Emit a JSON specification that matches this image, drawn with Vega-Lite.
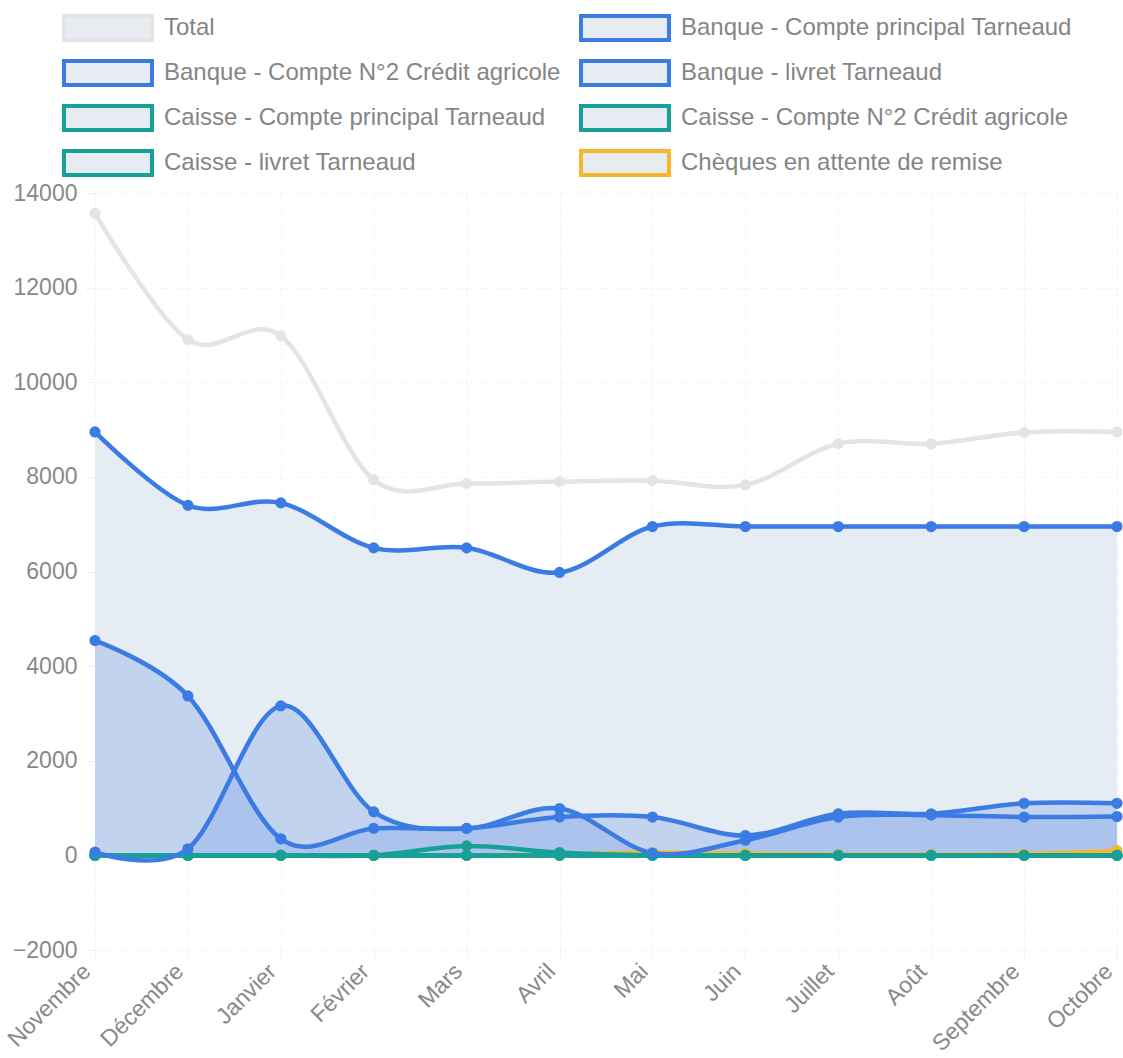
{
  "$schema": "https://vega.github.io/schema/vega-lite/v6.json",
  "width": 1022,
  "height": 757,
  "autosize": {"type": "none"},
  "padding": {"left": 95, "top": 193, "right": 6, "bottom": 108},
  "background": "white",
  "config": {
    "font": "Liberation Sans",
    "view": {"stroke": null},
    "axis": {
      "gridColor": "#eeeeee",
      "gridDash": [2, 3],
      "gridWidth": 1,
      "domain": false,
      "tickColor": "#f0f0f0",
      "labelColor": "#888888",
      "labelFont": "Liberation Sans",
      "labelFontSize": 23,
      "title": null
    }
  },
  "data": {
    "values": [
      {"mois": "Novembre", "serie": "Chèques en attente de remise", "valeur": 0},
      {"mois": "Décembre", "serie": "Chèques en attente de remise", "valeur": 0},
      {"mois": "Janvier", "serie": "Chèques en attente de remise", "valeur": 0},
      {"mois": "Février", "serie": "Chèques en attente de remise", "valeur": 0},
      {"mois": "Mars", "serie": "Chèques en attente de remise", "valeur": 0},
      {"mois": "Avril", "serie": "Chèques en attente de remise", "valeur": 20},
      {"mois": "Mai", "serie": "Chèques en attente de remise", "valeur": 60},
      {"mois": "Juin", "serie": "Chèques en attente de remise", "valeur": 40},
      {"mois": "Juillet", "serie": "Chèques en attente de remise", "valeur": 20},
      {"mois": "Août", "serie": "Chèques en attente de remise", "valeur": 20},
      {"mois": "Septembre", "serie": "Chèques en attente de remise", "valeur": 30},
      {"mois": "Octobre", "serie": "Chèques en attente de remise", "valeur": 100},

      {"mois": "Novembre", "serie": "Caisse - livret Tarneaud", "valeur": 0},
      {"mois": "Décembre", "serie": "Caisse - livret Tarneaud", "valeur": 0},
      {"mois": "Janvier", "serie": "Caisse - livret Tarneaud", "valeur": 0},
      {"mois": "Février", "serie": "Caisse - livret Tarneaud", "valeur": 0},
      {"mois": "Mars", "serie": "Caisse - livret Tarneaud", "valeur": 0},
      {"mois": "Avril", "serie": "Caisse - livret Tarneaud", "valeur": 0},
      {"mois": "Mai", "serie": "Caisse - livret Tarneaud", "valeur": 0},
      {"mois": "Juin", "serie": "Caisse - livret Tarneaud", "valeur": 0},
      {"mois": "Juillet", "serie": "Caisse - livret Tarneaud", "valeur": 0},
      {"mois": "Août", "serie": "Caisse - livret Tarneaud", "valeur": 0},
      {"mois": "Septembre", "serie": "Caisse - livret Tarneaud", "valeur": 0},
      {"mois": "Octobre", "serie": "Caisse - livret Tarneaud", "valeur": 0},

      {"mois": "Novembre", "serie": "Caisse - Compte N°2 Crédit agricole", "valeur": 0},
      {"mois": "Décembre", "serie": "Caisse - Compte N°2 Crédit agricole", "valeur": 0},
      {"mois": "Janvier", "serie": "Caisse - Compte N°2 Crédit agricole", "valeur": 0},
      {"mois": "Février", "serie": "Caisse - Compte N°2 Crédit agricole", "valeur": 0},
      {"mois": "Mars", "serie": "Caisse - Compte N°2 Crédit agricole", "valeur": 0},
      {"mois": "Avril", "serie": "Caisse - Compte N°2 Crédit agricole", "valeur": 0},
      {"mois": "Mai", "serie": "Caisse - Compte N°2 Crédit agricole", "valeur": 0},
      {"mois": "Juin", "serie": "Caisse - Compte N°2 Crédit agricole", "valeur": 0},
      {"mois": "Juillet", "serie": "Caisse - Compte N°2 Crédit agricole", "valeur": 0},
      {"mois": "Août", "serie": "Caisse - Compte N°2 Crédit agricole", "valeur": 0},
      {"mois": "Septembre", "serie": "Caisse - Compte N°2 Crédit agricole", "valeur": 0},
      {"mois": "Octobre", "serie": "Caisse - Compte N°2 Crédit agricole", "valeur": 0},

      {"mois": "Novembre", "serie": "Caisse - Compte principal Tarneaud", "valeur": 0},
      {"mois": "Décembre", "serie": "Caisse - Compte principal Tarneaud", "valeur": 0},
      {"mois": "Janvier", "serie": "Caisse - Compte principal Tarneaud", "valeur": 0},
      {"mois": "Février", "serie": "Caisse - Compte principal Tarneaud", "valeur": 0},
      {"mois": "Mars", "serie": "Caisse - Compte principal Tarneaud", "valeur": 200},
      {"mois": "Avril", "serie": "Caisse - Compte principal Tarneaud", "valeur": 60},
      {"mois": "Mai", "serie": "Caisse - Compte principal Tarneaud", "valeur": 0},
      {"mois": "Juin", "serie": "Caisse - Compte principal Tarneaud", "valeur": 0},
      {"mois": "Juillet", "serie": "Caisse - Compte principal Tarneaud", "valeur": 0},
      {"mois": "Août", "serie": "Caisse - Compte principal Tarneaud", "valeur": 0},
      {"mois": "Septembre", "serie": "Caisse - Compte principal Tarneaud", "valeur": 0},
      {"mois": "Octobre", "serie": "Caisse - Compte principal Tarneaud", "valeur": 0},

      {"mois": "Novembre", "serie": "Banque - livret Tarneaud", "valeur": 70},
      {"mois": "Décembre", "serie": "Banque - livret Tarneaud", "valeur": 140},
      {"mois": "Janvier", "serie": "Banque - livret Tarneaud", "valeur": 3160},
      {"mois": "Février", "serie": "Banque - livret Tarneaud", "valeur": 920},
      {"mois": "Mars", "serie": "Banque - livret Tarneaud", "valeur": 570},
      {"mois": "Avril", "serie": "Banque - livret Tarneaud", "valeur": 990},
      {"mois": "Mai", "serie": "Banque - livret Tarneaud", "valeur": 50},
      {"mois": "Juin", "serie": "Banque - livret Tarneaud", "valeur": 320},
      {"mois": "Juillet", "serie": "Banque - livret Tarneaud", "valeur": 810},
      {"mois": "Août", "serie": "Banque - livret Tarneaud", "valeur": 850},
      {"mois": "Septembre", "serie": "Banque - livret Tarneaud", "valeur": 810},
      {"mois": "Octobre", "serie": "Banque - livret Tarneaud", "valeur": 820},

      {"mois": "Novembre", "serie": "Banque - Compte N°2 Crédit agricole", "valeur": 4540},
      {"mois": "Décembre", "serie": "Banque - Compte N°2 Crédit agricole", "valeur": 3370},
      {"mois": "Janvier", "serie": "Banque - Compte N°2 Crédit agricole", "valeur": 350},
      {"mois": "Février", "serie": "Banque - Compte N°2 Crédit agricole", "valeur": 570},
      {"mois": "Mars", "serie": "Banque - Compte N°2 Crédit agricole", "valeur": 570},
      {"mois": "Avril", "serie": "Banque - Compte N°2 Crédit agricole", "valeur": 810},
      {"mois": "Mai", "serie": "Banque - Compte N°2 Crédit agricole", "valeur": 810},
      {"mois": "Juin", "serie": "Banque - Compte N°2 Crédit agricole", "valeur": 420},
      {"mois": "Juillet", "serie": "Banque - Compte N°2 Crédit agricole", "valeur": 880},
      {"mois": "Août", "serie": "Banque - Compte N°2 Crédit agricole", "valeur": 880},
      {"mois": "Septembre", "serie": "Banque - Compte N°2 Crédit agricole", "valeur": 1100},
      {"mois": "Octobre", "serie": "Banque - Compte N°2 Crédit agricole", "valeur": 1100},

      {"mois": "Novembre", "serie": "Banque - Compte principal Tarneaud", "valeur": 8950},
      {"mois": "Décembre", "serie": "Banque - Compte principal Tarneaud", "valeur": 7400},
      {"mois": "Janvier", "serie": "Banque - Compte principal Tarneaud", "valeur": 7450},
      {"mois": "Février", "serie": "Banque - Compte principal Tarneaud", "valeur": 6500},
      {"mois": "Mars", "serie": "Banque - Compte principal Tarneaud", "valeur": 6500},
      {"mois": "Avril", "serie": "Banque - Compte principal Tarneaud", "valeur": 5980},
      {"mois": "Mai", "serie": "Banque - Compte principal Tarneaud", "valeur": 6950},
      {"mois": "Juin", "serie": "Banque - Compte principal Tarneaud", "valeur": 6950},
      {"mois": "Juillet", "serie": "Banque - Compte principal Tarneaud", "valeur": 6950},
      {"mois": "Août", "serie": "Banque - Compte principal Tarneaud", "valeur": 6950},
      {"mois": "Septembre", "serie": "Banque - Compte principal Tarneaud", "valeur": 6950},
      {"mois": "Octobre", "serie": "Banque - Compte principal Tarneaud", "valeur": 6950},

      {"mois": "Novembre", "serie": "Total", "valeur": 13570},
      {"mois": "Décembre", "serie": "Total", "valeur": 10900},
      {"mois": "Janvier", "serie": "Total", "valeur": 10980},
      {"mois": "Février", "serie": "Total", "valeur": 7940},
      {"mois": "Mars", "serie": "Total", "valeur": 7860},
      {"mois": "Avril", "serie": "Total", "valeur": 7900},
      {"mois": "Mai", "serie": "Total", "valeur": 7920},
      {"mois": "Juin", "serie": "Total", "valeur": 7830},
      {"mois": "Juillet", "serie": "Total", "valeur": 8700},
      {"mois": "Août", "serie": "Total", "valeur": 8700},
      {"mois": "Septembre", "serie": "Total", "valeur": 8940},
      {"mois": "Octobre", "serie": "Total", "valeur": 8950}
    ]
  },
  "encoding": {
    "x": {
      "field": "mois",
      "type": "ordinal",
      "sort": ["Novembre", "Décembre", "Janvier", "Février", "Mars", "Avril", "Mai", "Juin", "Juillet", "Août", "Septembre", "Octobre"],
      "scale": {"type": "point", "padding": 0},
      "axis": {"labelAngle": -45, "labelAlign": "right", "labelBaseline": "bottom", "tickSize": 8, "labelPadding": 18, "grid": true}
    },
    "y": {
      "field": "valeur",
      "type": "quantitative",
      "scale": {"domain": [-2000, 14000], "nice": false},
      "axis": {"values": [-2000, 0, 2000, 4000, 6000, 8000, 10000, 12000, 14000], "format": "d", "tickSize": 10, "labelPadding": 8, "grid": true}
    }
  },
  "layer": [
    {
      "transform": [{"filter": "datum.serie === 'Banque - Compte principal Tarneaud'"}],
      "mark": {"type": "area", "interpolate": "cardinal", "color": "#e5ecf3"},
      "encoding": {"y2": {"datum": 0}}
    },
    {
      "transform": [{"filter": "datum.serie === 'Banque - Compte N°2 Crédit agricole' || datum.serie === 'Banque - livret Tarneaud'"}],
      "mark": {"type": "area", "interpolate": "cardinal", "color": "#8eb0ea", "opacity": 0.42},
      "encoding": {"y2": {"datum": 0}, "detail": {"field": "serie"}}
    },
    {
      "mark": {"type": "line", "interpolate": "cardinal", "strokeWidth": 4.5},
      "encoding": {
        "stroke": {
          "field": "serie",
          "type": "nominal",
          "scale": {
            "domain": ["Total", "Banque - Compte principal Tarneaud", "Banque - Compte N°2 Crédit agricole", "Banque - livret Tarneaud", "Caisse - Compte principal Tarneaud", "Caisse - Compte N°2 Crédit agricole", "Caisse - livret Tarneaud", "Chèques en attente de remise"],
            "range": ["#e4e4e4", "#3a7be4", "#3a7be4", "#3a7be4", "#17a098", "#17a098", "#17a098", "#f6b82a"]
          },
          "legend": {
            "orient": "none",
            "legendX": -33,
            "legendY": -179,
            "title": null,
            "columns": 2,
            "direction": "horizontal",
            "columnPadding": 12,
            "rowPadding": 5,
            "labelFont": "Liberation Sans",
            "labelFontSize": 24,
            "labelColor": "#858585",
            "labelLimit": 600,
            "labelOffset": 74,
            "symbolType": "M-1,-1H6.33V1H-1Z",
            "symbolSize": 576,
            "symbolStrokeWidth": 4,
            "symbolFillColor": "#e6ecf1",
            "symbolOpacity": 1
          }
        }
      }
    },
    {
      "mark": {"type": "point", "filled": false, "size": 28, "strokeWidth": 5.9, "opacity": 1},
      "encoding": {
        "stroke": {"field": "serie", "type": "nominal", "legend": null}
      }
    }
  ]
}
